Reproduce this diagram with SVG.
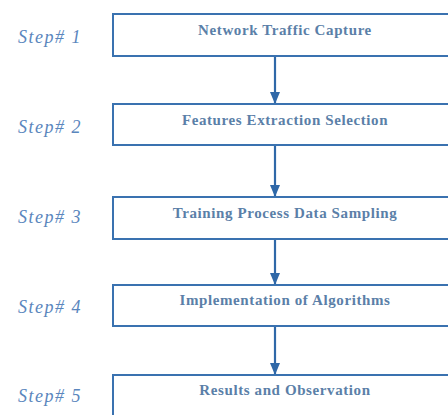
<svg xmlns="http://www.w3.org/2000/svg" width="448" height="415" viewBox="0 0 448 415">
<style>
.box{fill:#fff;stroke:#3a72b0;stroke-width:2}
.t{font-family:"Liberation Serif",serif;font-weight:bold;font-size:15px;letter-spacing:0.6px;fill:#5b7fa8;text-anchor:middle}
.s{font-family:"Liberation Serif",serif;font-style:italic;font-size:18px;letter-spacing:1.5px;fill:#5a86bd}
.c{stroke:#2f68a8;stroke-width:2.2;fill:none}
</style>
<defs>
<marker id="ah" markerWidth="12" markerHeight="10" refX="12" refY="5" orient="auto" markerUnits="userSpaceOnUse">
<path d="M0,0 L12,5 L0,10 z" fill="#2f68a8"/>
</marker>
</defs>
<rect width="448" height="415" fill="#fff"/>
<g id="connectors">
<line class="c" x1="275" y1="56" x2="275" y2="104" marker-end="url(#ah)"/>
<line class="c" x1="275" y1="145" x2="275" y2="197" marker-end="url(#ah)"/>
<line class="c" x1="275" y1="239" x2="275" y2="285" marker-end="url(#ah)"/>
<line class="c" x1="275" y1="326" x2="275" y2="375" marker-end="url(#ah)"/>
</g>
<g id="step1"><text class="s" x="18" y="43">Step# 1</text><rect class="box" x="113" y="14" width="350" height="42"/><text class="t" x="285" y="35">Network Traffic Capture</text></g>
<g id="step2"><text class="s" x="18" y="133">Step# 2</text><rect class="box" x="113" y="104" width="350" height="41"/><text class="t" x="285" y="125">Features Extraction Selection</text></g>
<g id="step3"><text class="s" x="18" y="223">Step# 3</text><rect class="box" x="113" y="197" width="350" height="42"/><text class="t" x="285" y="218">Training Process Data Sampling</text></g>
<g id="step4"><text class="s" x="18" y="313">Step# 4</text><rect class="box" x="113" y="285" width="350" height="41"/><text class="t" x="285" y="305">Implementation of Algorithms</text></g>
<g id="step5"><text class="s" x="18" y="402">Step# 5</text><rect class="box" x="113" y="375" width="350" height="50"/><text class="t" x="285" y="395">Results and Observation</text></g>
</svg>
